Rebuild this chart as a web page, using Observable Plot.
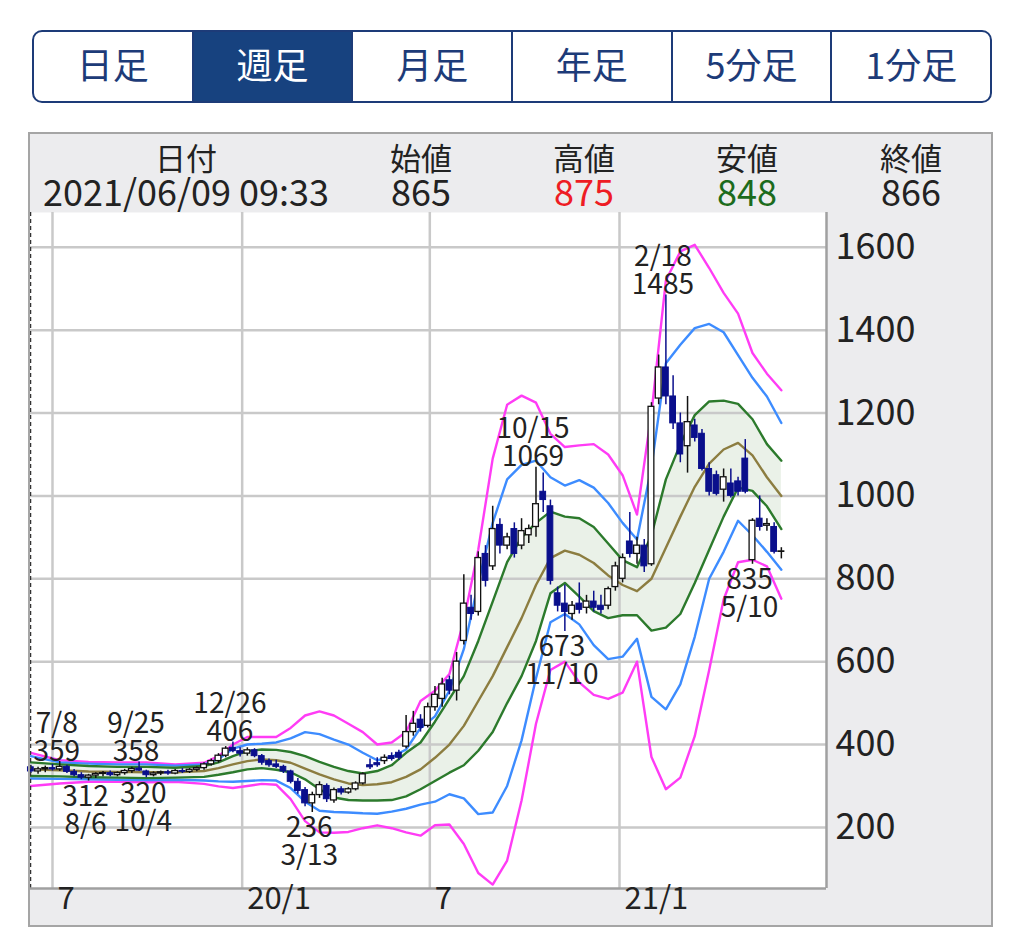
<!DOCTYPE html>
<html><head><meta charset="utf-8">
<script src="https://cdn.jsdelivr.net/npm/d3@7"></script>
<script src="https://cdn.jsdelivr.net/npm/@observablehq/plot@0.6"></script>
<style>
html,body{margin:0;padding:0;background:#fff;}
body{width:1024px;height:927px;position:relative;overflow:hidden;font-family:"Noto Sans CJK JP","Noto Sans",sans-serif;color:#222;}
#tabs{position:absolute;left:32px;top:30px;width:956px;height:69px;border:2px solid #1d3b78;border-radius:10px;overflow:hidden;display:flex;}
.tab{flex:1;display:flex;align-items:center;justify-content:center;font-size:36px;color:#1d3b78;border-left:2px solid #1d3b78;padding-bottom:7px;box-sizing:border-box;}
.tab:first-child{border-left:none;}
.tab.sel{background:#17427f;color:#fff;}
#head{position:absolute;left:28px;top:132px;width:961px;height:78px;background:#ececee;border:2px solid #a5a5a5;border-bottom:none;}
.ht{position:absolute;transform:translate(-50%,-50%);white-space:nowrap;line-height:1;}
#chart{position:absolute;left:28px;top:212px;}
#frame{position:absolute;left:28px;top:132px;width:961px;height:791px;border:2px solid #a5a5a5;pointer-events:none;}
</style></head>
<body>
<div id="tabs"></div>
<div id="head"></div>
<div id="chart"></div>
<div id="frame"></div>
<script>
// ---------- data ----------
const tabLabels = ["日足","週足","月足","年足","5分足","1分足"];
const selectedTab = 1;
const headerLabels = ["日付","始値","高値","安値","終値"];
const headerValues = ["2021/06/09 09:33","865","875","848","866"];
const headerColors = ["#222","#222","#ee1c24","#1c6b1c","#222"];

const firstWeek = "2019-06-10"; // weekly candles, one per Monday
const open  = [345,335,340,343,340,346,334,326,320,325,329,331,326,331,336,342,335,326,330,333,330,336,334,339,343,352,360,373,392,384,378,386,372,360,352,346,335,310,290,258,278,300,265,292,284,292,306,350,355,360,372,380,395,430,460,445,490,510,555,530,650,730,720,860,830,930,880,920,880,905,925,1010,975,765,740,715,740,730,745,735,735,780,800,890,860,880,835,1235,1310,1240,1175,1120,1170,1150,1065,1050,1015,1030,1035,1090,845,945,928,925,865];
const high  = [350,345,348,352,359,350,340,332,328,332,335,336,334,340,345,358,338,334,336,338,340,342,342,346,356,365,378,395,406,392,392,390,376,365,362,350,338,318,296,285,310,305,295,298,296,310,332,365,368,375,380,386,470,480,472,500,540,560,565,622,810,760,865,880,975,945,910,935,945,930,1069,1055,990,780,785,745,790,760,770,760,780,840,860,960,900,895,1225,1340,1485,1290,1200,1240,1185,1160,1080,1060,1065,1065,1045,1136,945,1000,945,935,875];
const low   = [330,328,332,336,335,330,322,315,312,318,322,322,322,326,330,335,320,322,325,326,327,330,330,334,338,348,355,368,380,370,372,368,350,345,342,330,305,280,250,236,270,260,258,278,280,288,302,340,345,352,360,362,390,420,430,440,480,490,520,505,640,700,710,780,820,860,870,850,870,885,900,960,785,720,673,700,715,715,720,715,725,770,790,850,835,815,830,1220,1220,1160,1080,1055,1130,1060,1000,1000,985,995,1000,1005,835,915,915,860,848];
const close = [335,340,343,340,346,334,326,320,325,329,331,326,331,336,341,337,326,330,333,330,336,334,339,343,352,360,373,390,384,378,386,372,356,350,346,335,310,288,258,278,302,268,290,284,292,306,328,345,350,368,365,368,430,450,440,490,520,545,530,600,740,715,850,795,920,880,900,860,915,920,980,990,795,735,720,735,725,745,730,725,775,830,850,860,880,830,1215,1310,1240,1175,1100,1178,1140,1065,1010,1005,1045,1000,1010,1010,940,925,932,865,866];

// Bollinger band readings (week index of each reading)
const bandWeek = [0,4,8,12,16,20,24,26,28,30,32,34,36,38,40,42,44,46,48,50,52,54,56,58,60,62,64,66,68,70,72,74,76,78,80,82,84,86,88,90,92,94,96,98,100,102,104];
const plus3  = [380,362,358,357,357,352,356,372,400,418,418,418,440,470,480,470,450,430,400,405,430,505,530,570,700,870,1090,1220,1242,1225,1150,1118,1122,1125,1100,1050,955,1200,1520,1590,1606,1550,1490,1440,1345,1295,1255];
const plus2  = [372,357,354,352,352,349,352,365,390,400,402,405,415,430,425,412,400,380,362,370,388,440,468,530,630,790,935,1040,1075,1085,1045,1025,1038,1020,983,935,895,1070,1320,1365,1405,1415,1395,1340,1285,1240,1176];
const plus1  = [357,352,348,346,346,344,348,357,372,384,388,387,382,372,358,346,336,330,336,350,380,405,455,510,565,650,745,840,900,935,962,950,946,925,885,845,828,905,1040,1125,1195,1228,1230,1222,1185,1125,1085];
const mavg   = [340,338,335,334,333,333,336,343,352,360,364,362,356,342,328,316,306,302,304,309,322,340,368,400,445,505,565,635,705,785,850,868,858,838,808,785,770,800,875,950,1022,1078,1112,1128,1098,1045,1000];
const minus1 = [324,323,321,320,319,320,322,327,333,340,343,339,333,316,292,272,266,265,265,266,275,292,312,332,350,385,430,500,565,650,765,790,757,722,705,712,712,675,682,715,790,870,950,1020,1012,975,920];
const minus2 = [318,317,316,315,314,315,313,311,310,312,314,313,295,262,240,237,236,234,233,238,245,255,262,280,270,232,236,300,410,560,695,715,690,640,606,612,655,515,485,545,660,800,865,940,905,865,822];
const minus3 = [300,306,310,310,309,310,305,299,295,300,305,303,268,215,188,187,189,198,205,198,188,180,205,207,160,90,62,120,265,450,580,600,550,520,510,525,600,370,292,320,420,580,750,840,846,830,752];

// high / low annotations
const annWeek  = [4,8,15,16,28,39,70,74,88,100];
const annDate  = ["7/8","8/6","9/25","10/4","12/26","3/13","10/15","11/10","2/18","5/10"];
const annValue = [359,312,358,320,406,236,1069,673,1485,835];
const annKind  = ["high","low","high","low","high","low","high","low","high","low"];

const yTicks = [200,400,600,800,1000,1200,1400,1600];
const xTickDates  = ["2019-07-01","2020-01-01","2020-07-01","2021-01-01"];
const xTickLabels = ["7","20/1","7","21/1"];

// ---------- html parts ----------
const tabs = document.getElementById("tabs");
tabLabels.forEach((t,i)=>{const d=document.createElement("div");d.className="tab"+(i===selectedTab?" sel":"");d.textContent=t;tabs.appendChild(d);});
const colX = [184,419,582,745,909];
headerLabels.forEach((t,i)=>{
  const a=document.createElement("div");a.className="ht";a.style.left=(colX[i]-28)+"px";a.style.top="22px";a.style.fontSize="31px";a.textContent=t;document.getElementById("head").appendChild(a);
  const b=document.createElement("div");b.className="ht";b.style.left=(colX[i]-28)+"px";b.style.top="56px";b.style.fontSize="36px";b.style.color=headerColors[i];b.textContent=headerValues[i];document.getElementById("head").appendChild(b);
});

// ---------- chart ----------
const DAY = 864e5;
const t0 = new Date(firstWeek+"T00:00:00Z");
const dates = open.map((_,i)=>new Date(+t0 + i*7*DAY));
const candles = open.map((o,i)=>({date:dates[i],open:o,high:high[i],low:low[i],close:close[i],up:close[i]>=o}));
const ups = candles.filter(d=>d.up), downs = candles.filter(d=>!d.up);
const bands = bandWeek.map((w,j)=>({date:dates[w],p3:plus3[j],p2:plus2[j],p1:plus1[j],ma:mavg[j],m1:minus1[j],m2:minus2[j],m3:minus3[j]}));
const anns = annWeek.map((w,j)=>({date:dates[w],value:annValue[j],kind:annKind[j],
  text: annKind[j]==="high" ? annDate[j]+"\n"+annValue[j] : annValue[j]+"\n"+annDate[j]}));
const xTicks = xTickDates.map((d,i)=>({date:new Date(d+"T00:00:00Z"),label:xTickLabels[i]}));

const xDomain=[new Date(Date.UTC(2019,5,9,16)),new Date(Date.UTC(2021,6,20,19))];
const yDomain=[52.5,1684];
const HALF=2.8*DAY;
const navy="#0a0f8c";
const fontFamily="'Noto Sans CJK JP','Noto Sans',sans-serif";
const lw=2.4;

const chart = Plot.plot({
  width:965,height:715,
  marginLeft:2,marginRight:167,marginTop:0,marginBottom:39,
  style:{background:"#ececee",fontFamily,overflow:"visible"},
  x:{type:"utc",domain:xDomain,axis:null,label:null},
  y:{domain:yDomain,label:null},
  marks:[
    Plot.frame({fill:"white",stroke:"none"}),
    Plot.areaY(bands,{x:"date",y1:"m1",y2:"p1",fill:"#eaf1e8"}),
    Plot.gridY({ticks:yTicks,stroke:"#c9c9c9",strokeOpacity:1,strokeWidth:2.5}),
    Plot.gridX({ticks:xTicks.map(d=>d.date),stroke:"#c9c9c9",strokeOpacity:1,strokeWidth:2.5}),
    Plot.line(bands,{x:"date",y:"p3",stroke:"#ff3cf5",strokeWidth:lw}),
    Plot.line(bands,{x:"date",y:"m3",stroke:"#ff3cf5",strokeWidth:lw}),
    Plot.line(bands,{x:"date",y:"p2",stroke:"#3d8cff",strokeWidth:lw}),
    Plot.line(bands,{x:"date",y:"m2",stroke:"#3d8cff",strokeWidth:lw}),
    Plot.line(bands,{x:"date",y:"p1",stroke:"#2c7a2c",strokeWidth:lw}),
    Plot.line(bands,{x:"date",y:"m1",stroke:"#2c7a2c",strokeWidth:lw}),
    Plot.line(bands,{x:"date",y:"ma",stroke:"#8c7d40",strokeWidth:lw}),
    Plot.ruleX(ups,{x:"date",y1:"low",y2:"high",stroke:"#111",strokeWidth:1.5}),
    Plot.ruleX(downs,{x:"date",y1:"low",y2:"high",stroke:navy,strokeWidth:1.5}),
    Plot.rect(ups,{x1:d=>new Date(+d.date-HALF),x2:d=>new Date(+d.date+HALF),y1:"open",y2:"close",fill:"white",stroke:"#111",strokeWidth:1.3}),
    Plot.rect(downs,{x1:d=>new Date(+d.date-HALF),x2:d=>new Date(+d.date+HALF),y1:"open",y2:"close",fill:navy,stroke:navy,strokeWidth:1}),
    Plot.text(anns.filter(d=>d.kind==="high"),{x:"date",y:"value",text:"text",lineAnchor:"bottom",dx:-3,dy:-1,fontSize:28,lineHeight:1,fill:"#222"}),
    Plot.text(anns.filter(d=>d.kind==="low"),{x:"date",y:"value",text:"text",lineAnchor:"top",dx:-3,dy:5,fontSize:28,lineHeight:1,fill:"#222"}),
    Plot.ruleX([xDomain[0]],{stroke:"#333",strokeDasharray:"4,3",strokeWidth:1.5}),
    Plot.ruleX([xDomain[1]],{stroke:"#a0a0a0",strokeWidth:2.5}),
    Plot.ruleY([yDomain[0]],{stroke:"#a0a0a0",strokeWidth:2.5}),
    Plot.axisY({anchor:"right",ticks:yTicks,tickSize:0,tickPadding:9,tickFormat:d=>String(d),fontSize:36,color:"#222",label:null}),
    Plot.text(xTicks,{x:"date",text:"label",frameAnchor:"bottom",dy:20,dx:5,textAnchor:"start",fontSize:31,fill:"#222"})
  ]
});
document.getElementById("chart").appendChild(chart);
</script>
</body></html>
